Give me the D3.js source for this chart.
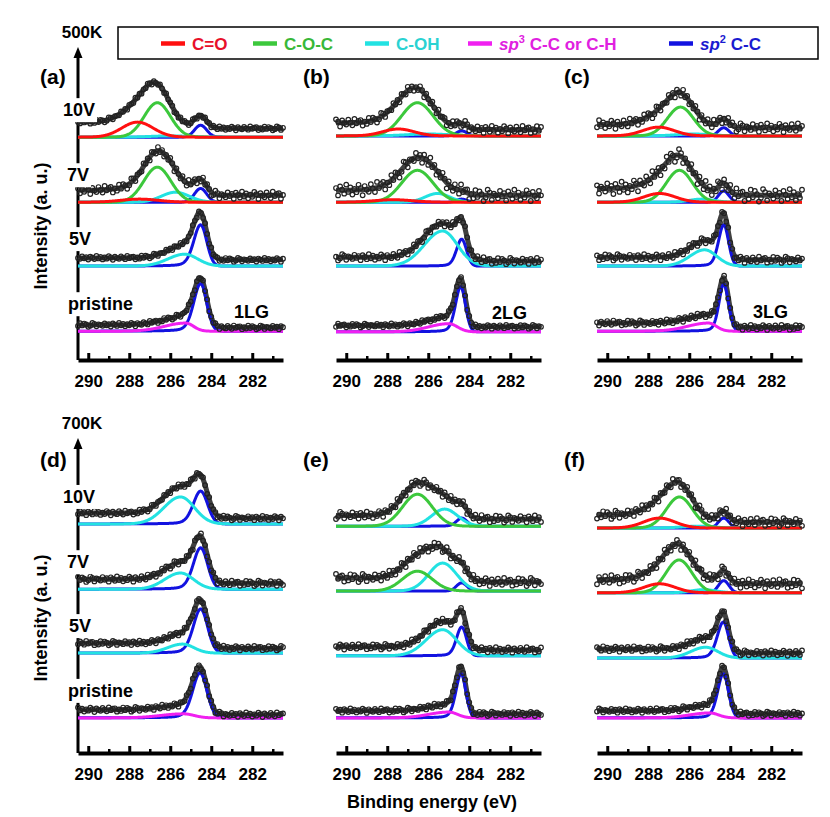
<!DOCTYPE html>
<html>
<head>
<meta charset="utf-8">
<script src="https://cdn.jsdelivr.net/npm/d3@7"></script>
<style>
  html, body { margin: 0; padding: 0; background: #fff; }
  svg { display: block; font-family: "Liberation Sans", Arial, sans-serif; font-weight: bold; }
</style>
</head>
<body>
<svg id="chart" width="830" height="817"></svg>
<script>
// ---------------- DATA ----------------
const energyDomain = [290.5, 280.5];
const majorTicks = [290, 288, 286, 284, 282];
const minorTicks = [289, 287, 285, 283, 281];
const conditions = ["10V", "7V", "5V", "pristine"];
const panelLabels = ["(a)", "(b)", "(c)", "(d)", "(e)", "(f)"];
const layerLabels = ["1LG", "2LG", "3LG", "", "", ""];
const rowMax = [500, 700];
const rowMaxLabels = ["500K", "700K"];
const componentNames = ["C=O", "C-O-C", "C-OH", "sp3 C-C or C-H", "sp2 C-C"];
const componentColors = ["#ff1010", "#3cc83c", "#22e2e2", "#f020f0", "#1212e0"];
const legendTextColors = ["#e8102a", "#38b838", "#2ad2d2", "#e020e0", "#1a1ad0"];

// spectrum baselines (K counts) per panel: 10V, 7V, 5V, pristine
const baselines = [
  [356, 252, 150, 46], [358, 252, 150, 45], [358, 252, 150, 46],
  [509, 364, 222, 78], [504, 360, 216, 78], [500, 356, 211, 78]
];
// background above baseline at high-BE end and low-BE end (K)
const bgHigh = [[24, 19, 13, 10], [21, 19, 14, 10], [18, 22, 14, 13], [24, 22, 22, 18], [24, 29, 20, 16], [29, 29, 20, 16]];
const bgLow  = [[14, 11, 10, 6], [10, 11, 8, 8], [13, 11, 10, 6], [13, 13, 11, 7], [16, 20, 13, 9], [13, 20, 11, 9]];
// scatter amplitude of measured points (K)
const noiseAmp = [[3, 6, 3, 3], [6, 9, 5, 3], [7, 10, 5, 4], [5, 6, 5, 5], [8, 9, 6, 5], [9, 10, 6, 5]];
// estimated residuals of the measured points relative to the fit
const residuals = [0.3, -0.8, 0.5, 1.0, -0.4, -1.0, 0.2, 0.7, -0.3, 0.9, -0.6, 0.1, -0.9, 0.6, 0.4, -0.2, 1.0, -0.7, 0.0, 0.8,
  -0.5, -0.1, 0.6, -1.0, 0.3, 0.9, -0.4, 0.2, -0.8, 0.5, -0.3, 1.0, -0.6, 0.1, 0.7, -0.9, 0.4, -0.2, 0.8, -0.5, 0.0];

// fitted components: [component index, center (eV), height (K), FWHM high-BE side, FWHM low-BE side, lorentz tail]
const peaksA = [
  [[0, 287.6, 24, 1.8, 1.8, 0], [1, 286.63, 55, 1.5, 1.5, 0], [2, 286.0, 2, 2.2, 2.2, 0], [4, 284.52, 19, 0.7, 0.7, 0]],
  [[0, 287.5, 5, 2.2, 2.2, 0], [1, 286.63, 56, 1.55, 1.55, 0], [2, 285.75, 16, 1.6, 1.6, 0], [4, 284.52, 22, 0.7, 0.7, 0]],
  [[2, 285.3, 19, 1.9, 1.5, 0], [4, 284.52, 66, 0.8, 0.7, 0.25]],
  [[3, 285.25, 13, 2.4, 0.9, 0], [4, 284.52, 76, 0.8, 0.7, 0.25]]
];
const peaksB = [
  [[0, 287.46, 11, 1.8, 1.8, 0], [1, 286.53, 53, 1.8, 1.8, 0], [2, 286.0, 3, 2.5, 2.5, 0], [4, 284.37, 8, 0.6, 0.6, 0]],
  [[0, 287.7, 4, 2.2, 2.2, 0], [1, 286.53, 51, 1.8, 1.8, 0], [2, 285.55, 14, 1.4, 1.4, 0], [4, 284.37, 5, 0.6, 0.6, 0]],
  [[2, 285.3, 56, 2.1, 1.7, 0], [4, 284.37, 43, 0.6, 0.55, 0.25]],
  [[3, 285.0, 13, 2.3, 1.0, 0], [4, 284.42, 72, 0.6, 0.55, 0.25]]
];
const peaksC = [
  [[0, 287.5, 14, 1.8, 1.8, 0], [1, 286.43, 46, 1.5, 1.5, 0], [2, 285.8, 3, 2.0, 2.0, 0], [4, 284.32, 13, 0.6, 0.6, 0]],
  [[0, 287.45, 14, 1.8, 1.8, 0], [1, 286.48, 51, 1.5, 1.5, 0], [2, 285.4, 5, 1.4, 1.4, 0], [4, 284.32, 18, 0.6, 0.6, 0]],
  [[2, 285.25, 26, 1.7, 1.4, 0], [4, 284.32, 66, 0.6, 0.55, 0.25]],
  [[3, 285.06, 13, 2.4, 0.9, 0], [4, 284.32, 75, 0.55, 0.55, 0.25]]
];
const peaksD = [
  [[2, 285.5, 60, 1.9, 1.6, 0], [4, 284.52, 73, 0.85, 0.8, 0.25]],
  [[2, 285.5, 36, 1.8, 1.5, 0], [4, 284.52, 92, 0.85, 0.8, 0.25]],
  [[2, 285.4, 20, 1.7, 1.3, 0], [4, 284.52, 98, 0.85, 0.8, 0.25]],
  [[3, 285.35, 9, 2.6, 1.2, 0], [4, 284.55, 100, 0.85, 0.8, 0.25]]
];
const peaksE = [
  [[1, 286.53, 71, 1.7, 1.7, 0], [2, 285.2, 38, 1.5, 1.5, 0], [4, 284.37, 18, 0.6, 0.6, 0.25]],
  [[1, 286.53, 44, 1.7, 1.7, 0], [2, 285.3, 62, 1.6, 1.6, 0], [4, 284.37, 18, 0.6, 0.6, 0]],
  [[2, 285.3, 58, 1.9, 1.6, 0], [4, 284.37, 64, 0.6, 0.55, 0.25]],
  [[3, 285.0, 13, 2.3, 1.0, 0], [4, 284.4, 98, 0.6, 0.55, 0.25]]
];
const peaksF = [
  [[0, 287.46, 22, 1.8, 1.8, 0], [1, 286.48, 69, 1.5, 1.5, 0], [2, 285.6, 4, 1.8, 1.8, 0], [4, 284.32, 22, 0.6, 0.6, 0]],
  [[0, 287.45, 20, 1.8, 1.8, 0], [1, 286.5, 73, 1.5, 1.5, 0], [2, 285.3, 7, 1.4, 1.4, 0], [4, 284.32, 27, 0.6, 0.6, 0]],
  [[2, 285.2, 24, 1.7, 1.4, 0], [4, 284.34, 80, 0.7, 0.6, 0.25]],
  [[3, 285.0, 11, 2.3, 1.0, 0], [4, 284.34, 98, 0.65, 0.6, 0.25]]
];
const peaks = [peaksA, peaksB, peaksC, peaksD, peaksE, peaksF];

// ---------------- LAYOUT ----------------
const svg = d3.select("#chart");
const panelX = [78, 336, 597];
const panelW = 205;
const rowAxisY = [360, 753];
const rowTopY = [47, 438];
const drawOrder = [4, 2, 1, 3, 0];
const FONT = '"Liberation Sans", Arial, sans-serif';

function shape(E, p) {
  const [, c, h, wHi, wLo, eta] = p;
  const hi = E >= c;
  const w = hi ? wHi : wLo;
  const d = E - c;
  const g = Math.exp(-4 * Math.LN2 * d * d / (w * w));
  const l = 1 / (1 + 4 * d * d / (w * w));
  const e = hi ? eta : 0;
  return h * ((1 - e) * g + e * l);
}

// energy grid from low BE to high BE
const step = 0.02;
const grid = d3.range(0, Math.round((energyDomain[0] - energyDomain[1]) / step) + 1).map(i => +(energyDomain[1] + i * step).toFixed(3));

// Legend
const legendG = svg.append("g");
legendG.append("rect").attr("x", 118).attr("y", 27).attr("width", 700).attr("height", 32)
  .attr("fill", "#fff").attr("stroke", "#000").attr("stroke-width", 1.5);
const legendX = [161, 253, 365, 468, 669];
componentNames.forEach((name, i) => {
  legendG.append("line").attr("x1", legendX[i]).attr("x2", legendX[i] + 24).attr("y1", 43.5).attr("y2", 43.5)
    .attr("stroke", componentColors[i]).attr("stroke-width", 4.5);
  const t = legendG.append("text").attr("x", legendX[i] + 31).attr("y", 50).attr("fill", legendTextColors[i])
    .attr("font-size", 17).attr("font-family", FONT).attr("font-weight", "bold");
  if (name.startsWith("sp")) {
    t.append("tspan").attr("font-style", "italic").text("sp");
    t.append("tspan").attr("font-size", 11).attr("dy", -7).text(name.charAt(2));
    t.append("tspan").attr("dy", 7).text(name.slice(3));
  } else {
    t.text(name);
  }
});

function labelWithBg(g, x, y, text, size, anchor) {
  const grp = g.append("g");
  const bgRect = grp.append("rect").attr("fill", "#fff");
  const t = grp.append("text").attr("x", x).attr("y", y).attr("font-size", size)
    .attr("font-family", FONT).attr("font-weight", "bold").attr("text-anchor", anchor || "start").text(text);
  const bb = t.node().getBBox();
  bgRect.attr("x", bb.x - 2).attr("y", bb.y - 2).attr("width", bb.width + 4).attr("height", bb.height + 4);
  return t;
}

peaks.forEach((panelPeaks, pi) => {
  const row = Math.floor(pi / 3), col = pi % 3;
  const x0 = panelX[col];
  const axisY = rowAxisY[row];
  const x = d3.scaleLinear().domain(energyDomain).range([x0, x0 + panelW]);
  const y = d3.scaleLinear().domain([0, rowMax[row]]).range([axisY, rowTopY[row]]);
  const g = svg.append("g");

  // panel label
  g.append("text").attr("x", col === 0 ? 40 : x0 - 33).attr("y", row === 0 ? 84 : 467)
    .attr("font-size", 21).attr("font-family", FONT).attr("font-weight", "bold").text(panelLabels[pi]);

  // y axis with arrow on first column
  if (col === 0) {
    g.append("line").attr("x1", x0).attr("x2", x0).attr("y1", axisY).attr("y2", rowTopY[row] + 8)
      .attr("stroke", "#000").attr("stroke-width", 3);
    g.append("path").attr("d", `M${x0},${rowTopY[row]} L${x0 - 4.5},${rowTopY[row] + 11} L${x0 + 4.5},${rowTopY[row] + 11} Z`)
      .attr("fill", "#000");
    g.append("text").attr("x", x0 + 4).attr("y", rowTopY[row] - 9).attr("text-anchor", "middle")
      .attr("font-size", 17).attr("font-family", FONT).attr("font-weight", "bold").text(rowMaxLabels[row]);
  }

  // x axis
  const axMinor = d3.axisBottom(x).tickValues(minorTicks).tickSize(-4).tickSizeOuter(0).tickFormat("");
  const axMajor = d3.axisBottom(x).tickValues(majorTicks).tickSize(-7).tickSizeOuter(0).tickPadding(15).tickFormat(d3.format("d"));
  const gMin = g.append("g").attr("transform", `translate(0,${axisY})`).call(axMinor);
  gMin.select(".domain").remove();
  gMin.selectAll(".tick line").attr("stroke", "#000").attr("stroke-width", 2.5);
  const gMaj = g.append("g").attr("transform", `translate(0,${axisY})`).call(axMajor);
  gMaj.select(".domain").attr("stroke", "#000").attr("stroke-width", 4);
  gMaj.selectAll(".tick line").attr("stroke", "#000").attr("stroke-width", 3);
  gMaj.selectAll(".tick text").attr("font-size", 17).attr("font-family", FONT).attr("font-weight", "bold").attr("fill", "#000");

  panelPeaks.forEach((comps, ci) => {
    const base = baselines[pi][ci];
    // component sum on the grid
    const sums = grid.map(E => d3.sum(comps, p => shape(E, p)));
    const total = d3.sum(sums) || 1;
    let acc = 0;
    const bg = sums.map(s => { acc += s; return bgLow[pi][ci] + (bgHigh[pi][ci] - bgLow[pi][ci]) * (acc / total); });
    const env = grid.map((E, i) => ({ E, v: base + sums[i] + bg[i] }));

    const line = d3.line().x(d => x(d.E)).y(d => y(d.v)).curve(d3.curveLinear);

    // envelope (fit)
    g.append("path").datum(env).attr("d", line).attr("fill", "none")
      .attr("stroke", "#404040").attr("stroke-width", 5).attr("stroke-linejoin", "round");

    // components
    drawOrder.forEach(k => {
      comps.filter(p => p[0] === k).forEach(p => {
        const pts = grid.map(E => ({ E, v: base + shape(E, p) }));
        g.append("path").datum(pts).attr("d", line).attr("fill", "none")
          .attr("stroke", componentColors[k]).attr("stroke-width", 3).attr("stroke-linejoin", "round");
      });
    });

    // measured points
    const pts = env.filter((d, i) => i % 5 === 0).map((d, j) => ({ E: d.E, v: d.v + noiseAmp[pi][ci] * residuals[(j + pi * 7 + ci * 11) % residuals.length] }));
    g.selectAll(null).data(pts).enter().append("circle")
      .attr("cx", d => x(d.E)).attr("cy", d => y(d.v)).attr("r", 2.3)
      .attr("fill", "none").attr("stroke", "#222").attr("stroke-width", 1.2);

    // condition label
    if (col === 0) {
      const lx = [63, 67, 69, 68][ci];
      labelWithBg(g, lx, y(base) - 21, conditions[ci], 18);
    }
    if (ci === 3 && layerLabels[pi]) {
      g.append("text").attr("x", x0 + 156).attr("y", y(base) - 13)
        .attr("font-size", 18).attr("font-family", FONT).attr("font-weight", "bold").text(layerLabels[pi]);
    }
  });
});

// axis titles
[226, 618].forEach(cy => {
  svg.append("text").attr("transform", `translate(47,${cy}) rotate(-90)`).attr("text-anchor", "middle")
    .attr("font-size", 18).attr("font-family", FONT).attr("font-weight", "bold").text("Intensity (a. u.)");
});
svg.append("text").attr("x", 432).attr("y", 808).attr("text-anchor", "middle")
  .attr("font-size", 18).attr("font-family", FONT).attr("font-weight", "bold").text("Binding energy (eV)");
</script>
</body>
</html>
